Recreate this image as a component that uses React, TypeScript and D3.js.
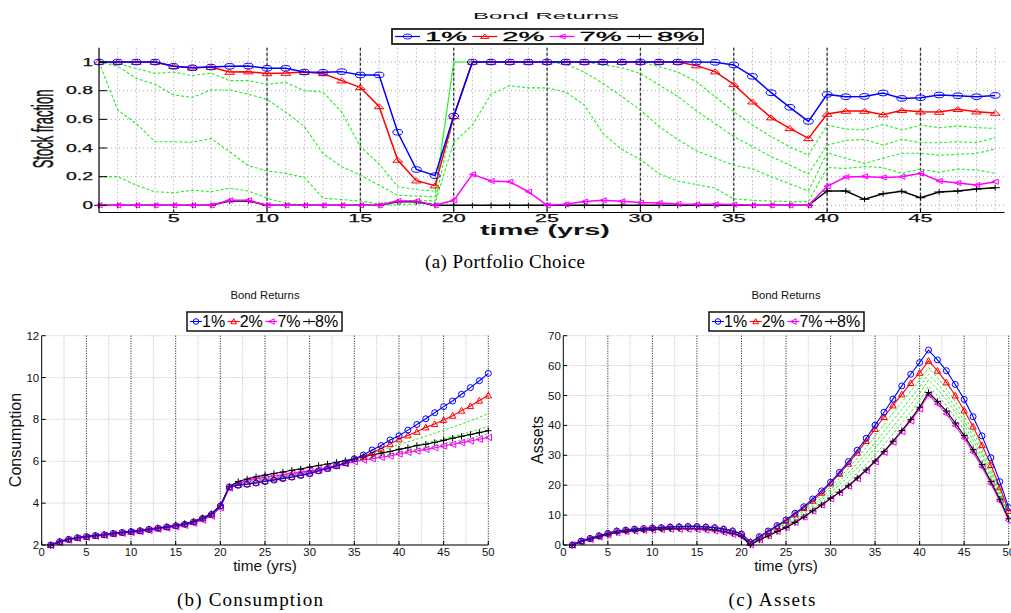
import React from "react";
import * as d3 from "d3";

// ---------- time axes ----------
const stockYears = d3.range(1, 50); // 1..49
const lifeYears = d3.range(1, 51); // 1..50

const rateLabels = ["1%", "2%", "7%", "8%"];

// ---------- (a) stock fraction by bond return ----------
const stock1 = [1, 1, 1, 1, 0.97, 0.96, 0.965, 0.97, 0.972, 0.956, 0.956, 0.93, 0.928, 0.933, 0.91, 0.91, 0.51, 0.25, 0.207, 0.623,
  1, 1, 1, 1, 1, 1, 1, 1, 1, 1, 1, 1, 1, 0.998, 0.98, 0.9, 0.786, 0.684, 0.586,
  0.774, 0.758, 0.76, 0.784, 0.746, 0.751, 0.77, 0.765, 0.758, 0.767];
const stock2 = [1, 1, 1, 1, 0.97, 0.96, 0.965, 0.93, 0.933, 0.92, 0.923, 0.93, 0.92, 0.87, 0.823, 0.69, 0.316, 0.172, 0.137, 0.62,
  1, 1, 1, 1, 1, 1, 1, 1, 1, 1, 1, 1, 0.975, 0.933, 0.844, 0.723, 0.612, 0.537, 0.467,
  0.637, 0.658, 0.658, 0.633, 0.663, 0.653, 0.651, 0.67, 0.653, 0.644];
const stock7 = [0, 0, 0, 0, 0, 0, 0, 0.035, 0.035, 0, 0, 0, 0, 0, 0, 0, 0.03, 0.03, 0, 0.035,
  0.216, 0.17, 0.165, 0.095, 0, 0.007, 0.026, 0.035, 0.028, 0.019, 0.016, 0.01, 0.007, 0.007, 0.005, 0, 0, 0, 0,
  0.133, 0.198, 0.202, 0.195, 0.2, 0.223, 0.17, 0.156, 0.142, 0.165];
const stock8 = [0, 0, 0, 0, 0, 0, 0, 0.03, 0.03, 0, 0, 0, 0, 0, 0, 0, 0.025, 0.025, 0, 0,
  0, 0, 0, 0, 0, 0, 0, 0, 0, 0, 0, 0, 0, 0, 0, 0, 0, 0, 0,
  0.1, 0.1, 0.042, 0.081, 0.098, 0.053, 0.093, 0.1, 0.114, 0.123];
const stock3 = [1, 0.99, 0.955, 0.92, 0.93, 0.905, 0.923, 0.87, 0.87, 0.845, 0.858, 0.8, 0.79, 0.65, 0.41, 0.29, 0.13, 0.11, 0.1, 1,
  1, 1, 1, 1, 1, 1, 1, 1, 1, 1, 0.967, 0.93, 0.863, 0.758, 0.653, 0.56, 0.479, 0.409, 0.35,
  0.56, 0.533, 0.526, 0.565, 0.526, 0.558, 0.542, 0.553, 0.542, 0.537];
const stock4 = [1, 0.97, 0.886, 0.845, 0.77, 0.753, 0.805, 0.805, 0.775, 0.74, 0.65, 0.55, 0.36, 0.27, 0.21, 0.14, 0.07, 0.065, 0.06, 1,
  1, 1, 1, 1, 1, 1, 1, 0.98, 0.96, 0.92, 0.84, 0.76, 0.66, 0.57, 0.48, 0.41, 0.34, 0.28, 0.22,
  0.42, 0.453, 0.46, 0.42, 0.46, 0.437, 0.437, 0.444, 0.437, 0.472];
const stock5 = [1, 0.665, 0.57, 0.444, 0.444, 0.44, 0.467, 0.374, 0.277, 0.24, 0.223, 0.195, 0.05, 0.04, 0.03, 0.01, 0.03, 0.035, 0.03, 0.62,
  1, 1, 1, 1, 1, 0.985, 0.93, 0.85, 0.76, 0.665, 0.55, 0.46, 0.38, 0.33, 0.28, 0.255, 0.2, 0.15, 0.1,
  0.367, 0.328, 0.293, 0.328, 0.363, 0.363, 0.35, 0.356, 0.363, 0.393];
const stock6 = [0.2, 0.2, 0.14, 0.095, 0.088, 0.105, 0.095, 0.12, 0.1, 0.05, 0.015, 0.002, 0, 0, 0, 0, 0.005, 0.01, 0.015, 0.44,
  0.56, 0.775, 0.835, 0.82, 0.82, 0.79, 0.7, 0.5, 0.39, 0.32, 0.22, 0.17, 0.145, 0.12, 0.045, 0.035, 0.03, 0.026, 0.026,
  0.263, 0.258, 0.27, 0.263, 0.223, 0.253, 0.23, 0.253, 0.247, 0.223];

// ---------- (b) consumption ----------
const cons1 = [2.0, 2.16, 2.27, 2.35, 2.4, 2.45, 2.49, 2.55, 2.6, 2.64, 2.68, 2.75, 2.8, 2.86, 2.92, 2.99, 3.1, 3.27, 3.46, 3.86,
  4.77, 4.85, 4.9, 4.96, 5.03, 5.1, 5.17, 5.24, 5.32, 5.41, 5.55, 5.65, 5.78, 5.93, 6.12, 6.3, 6.54, 6.75, 7.02, 7.22,
  7.49, 7.76, 8.03, 8.32, 8.61, 8.88, 9.2, 9.52, 9.85, 10.2];
const cons2 = [2.0, 2.16, 2.27, 2.35, 2.4, 2.45, 2.49, 2.55, 2.6, 2.64, 2.68, 2.75, 2.8, 2.86, 2.93, 3.0, 3.11, 3.28, 3.46, 3.86,
  4.78, 4.87, 4.91, 4.98, 5.06, 5.14, 5.2, 5.26, 5.34, 5.42, 5.55, 5.66, 5.79, 5.93, 6.13, 6.22, 6.41, 6.6, 6.82, 7.05,
  7.24, 7.41, 7.62, 7.78, 7.97, 8.18, 8.42, 8.64, 8.9, 9.15];
const cons7 = [1.98, 2.12, 2.24, 2.32, 2.37, 2.42, 2.46, 2.52, 2.56, 2.6, 2.64, 2.7, 2.76, 2.81, 2.87, 2.94, 3.04, 3.19, 3.38, 3.78,
  4.72, 4.95, 5.08, 5.17, 5.24, 5.3, 5.36, 5.42, 5.48, 5.54, 5.6, 5.7, 5.78, 5.88, 5.98, 6.06, 6.12, 6.19, 6.25, 6.35,
  6.43, 6.49, 6.57, 6.65, 6.73, 6.81, 6.89, 6.97, 7.05, 7.14];
const cons8 = [2.0, 2.17, 2.28, 2.36, 2.41, 2.46, 2.5, 2.56, 2.61, 2.65, 2.7, 2.76, 2.82, 2.87, 2.94, 3.02, 3.13, 3.3, 3.5, 3.9,
  4.8, 5.03, 5.15, 5.26, 5.34, 5.42, 5.49, 5.57, 5.63, 5.72, 5.8, 5.87, 5.95, 6.03, 6.12, 6.22, 6.3, 6.39, 6.47, 6.57,
  6.65, 6.75, 6.81, 6.9, 7.0, 7.1, 7.19, 7.28, 7.37, 7.46];
const cons3 = [2.0, 2.16, 2.27, 2.35, 2.4, 2.45, 2.49, 2.55, 2.6, 2.64, 2.68, 2.75, 2.8, 2.86, 2.92, 2.99, 3.1, 3.26, 3.44, 3.84,
  4.76, 4.88, 4.94, 5.01, 5.09, 5.16, 5.23, 5.3, 5.37, 5.45, 5.56, 5.67, 5.79, 5.92, 6.12, 6.25, 6.38, 6.52, 6.66, 6.8,
  6.93, 7.06, 7.2, 7.34, 7.48, 7.63, 7.78, 7.94, 8.1, 8.28];
const cons4 = [2.0, 2.15, 2.26, 2.34, 2.39, 2.44, 2.48, 2.54, 2.59, 2.63, 2.67, 2.74, 2.79, 2.85, 2.91, 2.98, 3.08, 3.24, 3.42, 3.82,
  4.75, 4.9, 4.98, 5.05, 5.12, 5.19, 5.26, 5.33, 5.4, 5.47, 5.57, 5.67, 5.78, 5.9, 6.1, 6.2, 6.29, 6.38, 6.48, 6.58,
  6.67, 6.77, 6.87, 6.97, 7.07, 7.18, 7.29, 7.4, 7.53, 7.66];
const cons5 = [1.99, 2.14, 2.25, 2.33, 2.38, 2.43, 2.47, 2.53, 2.58, 2.62, 2.66, 2.72, 2.78, 2.84, 2.9, 2.97, 3.07, 3.22, 3.41, 3.8,
  4.74, 4.92, 5.02, 5.1, 5.16, 5.23, 5.29, 5.36, 5.42, 5.49, 5.58, 5.68, 5.77, 5.88, 6.05, 6.13, 6.2, 6.27, 6.35, 6.42,
  6.5, 6.58, 6.66, 6.74, 6.83, 6.92, 7.01, 7.1, 7.2, 7.32];
const cons6 = [1.99, 2.13, 2.24, 2.32, 2.37, 2.42, 2.46, 2.52, 2.57, 2.61, 2.65, 2.71, 2.77, 2.82, 2.88, 2.95, 3.05, 3.2, 3.39, 3.79,
  4.73, 4.94, 5.05, 5.13, 5.2, 5.27, 5.33, 5.39, 5.45, 5.51, 5.59, 5.69, 5.77, 5.87, 6.0, 6.07, 6.13, 6.2, 6.26, 6.33,
  6.4, 6.47, 6.54, 6.62, 6.7, 6.78, 6.87, 6.96, 7.06, 7.17];

// ---------- (c) assets ----------
const assets1 = [0, 1.3, 2.2, 3.1, 3.9, 4.7, 5.0, 5.3, 5.5, 5.7, 5.8, 6.0, 6.1, 6.2, 6.2, 6.0, 5.8, 5.3, 4.7, 3.7,
  0.8, 2.8, 4.7, 6.5, 8.4, 10.6, 12.8, 15.4, 18.1, 21.0, 24.3, 27.9, 31.7, 35.7, 40.1, 44.4, 48.8, 53.2, 57.1, 61.0,
  65.2, 61.9, 58.3, 53.7, 48.7, 42.9, 36.5, 29.2, 21.2, 12.5];
const assets2 = [0, 1.3, 2.2, 3.1, 3.9, 4.7, 5.0, 5.3, 5.5, 5.8, 5.9, 6.1, 6.2, 6.3, 6.3, 6.1, 5.9, 5.4, 4.8, 3.8,
  1.1, 2.6, 4.4, 6.2, 8.1, 10.2, 12.4, 14.8, 17.5, 20.6, 23.8, 27.2, 30.9, 34.8, 38.8, 42.8, 46.7, 50.4, 54.2, 57.6,
  61.6, 58.3, 54.4, 50.0, 45.0, 39.6, 33.4, 26.8, 19.3, 11.4];
const assets7 = [0, 1.1, 1.9, 2.7, 3.4, 4.1, 4.5, 4.7, 4.9, 5.1, 5.2, 5.3, 5.3, 5.3, 5.2, 5.0, 4.7, 4.2, 3.6, 2.8,
  0.1, 1.8, 3.1, 4.6, 5.9, 7.6, 9.4, 11.4, 13.4, 15.5, 17.5, 19.7, 22.2, 24.9, 27.8, 31.0, 34.4, 37.9, 41.5, 45.5,
  50.3, 47.2, 43.9, 39.9, 35.7, 31.0, 26.1, 20.5, 14.7, 8.2];
const assets8 = [0, 1.2, 2.0, 2.8, 3.5, 4.2, 4.6, 4.8, 5.0, 5.2, 5.3, 5.4, 5.5, 5.5, 5.5, 5.3, 5.0, 4.5, 3.9, 3.0,
  0.0, 1.7, 3.0, 4.5, 5.8, 7.5, 9.3, 11.4, 13.4, 15.6, 17.6, 19.8, 22.4, 25.1, 28.1, 31.3, 34.7, 38.3, 42.0, 46.1,
  51.0, 48.0, 44.8, 40.8, 36.6, 31.9, 26.9, 21.2, 15.3, 8.8];
const assets3 = [0, 1.3, 2.2, 3.1, 3.9, 4.6, 5.0, 5.2, 5.4, 5.7, 5.8, 6.0, 6.1, 6.2, 6.2, 6.0, 5.8, 5.3, 4.7, 3.7,
  0.9, 2.4, 4.1, 5.8, 7.6, 9.6, 11.7, 14.1, 16.6, 19.5, 22.4, 25.6, 29.0, 32.7, 36.4, 40.3, 44.1, 47.7, 51.5, 55.1,
  59.3, 56.0, 52.3, 48.0, 43.2, 37.9, 32.0, 25.6, 18.4, 10.8];
const assets4 = [0, 1.3, 2.1, 3.0, 3.8, 4.5, 4.9, 5.1, 5.3, 5.6, 5.7, 5.9, 6.0, 6.1, 6.1, 5.9, 5.6, 5.1, 4.5, 3.5,
  0.6, 2.2, 3.8, 5.5, 7.1, 9.1, 11.1, 13.4, 15.8, 18.5, 21.2, 24.1, 27.3, 30.7, 34.3, 38.0, 41.7, 45.3, 49.1, 52.8,
  57.1, 54.0, 50.4, 46.1, 41.5, 36.4, 30.7, 24.4, 17.6, 10.3];
const assets5 = [0, 1.2, 2.1, 3.0, 3.7, 4.4, 4.8, 5.0, 5.2, 5.5, 5.6, 5.7, 5.8, 5.9, 5.9, 5.7, 5.4, 4.9, 4.3, 3.3,
  0.4, 2.1, 3.6, 5.2, 6.7, 8.6, 10.5, 12.8, 15.0, 17.6, 20.1, 22.8, 25.8, 29.0, 32.4, 35.9, 39.5, 43.1, 46.9, 50.7,
  55.2, 52.1, 48.6, 44.5, 40.0, 35.0, 29.5, 23.4, 16.9, 9.8];
const assets6 = [0, 1.2, 2.0, 2.9, 3.6, 4.3, 4.7, 4.9, 5.1, 5.3, 5.4, 5.5, 5.6, 5.7, 5.7, 5.5, 5.2, 4.7, 4.1, 3.1,
  0.2, 1.9, 3.3, 4.8, 6.3, 8.0, 9.9, 12.1, 14.2, 16.6, 18.8, 21.3, 24.1, 27.0, 30.2, 33.6, 37.1, 40.7, 44.4, 48.4,
  53.1, 50.1, 46.7, 42.6, 38.3, 33.4, 28.2, 22.3, 16.1, 9.3];

// ---------- tick labels ----------
const stockYTicks = [0, 0.2, 0.4, 0.6, 0.8, 1];
const stockXTicks = [5, 10, 15, 20, 25, 30, 35, 40, 45];
const lifeXTicks = [0, 5, 10, 15, 20, 25, 30, 35, 40, 45, 50];
const consYTicks = [2, 4, 6, 8, 10, 12];
const assetsYTicks = [0, 10, 20, 30, 40, 50, 60, 70];

// ---------- styling ----------
const SANS = "'Liberation Sans', Arial, Helvetica, sans-serif";
const SERIF = "'Liberation Serif', 'Times New Roman', Times, serif";
const GREEN = "#22ee22";
const BLUE = "#0000ff";
const RED = "#ff0000";
const MAGENTA = "#ff00ff";
const BLACK = "#000000";

type MarkKind = "o" | "^" | "<" | "+";

const mainColors = [BLUE, RED, MAGENTA, BLACK];
const mainMarks: MarkKind[] = ["o", "^", "<", "+"];

function Mark({ kind, cx, cy, color, r, sx }: { kind: MarkKind; cx: number; cy: number; color: string; r: number; sx: number }) {
  const rx = r * sx;
  if (kind === "o") return <ellipse cx={cx} cy={cy} rx={rx} ry={r} fill="none" stroke={color} strokeWidth={1} />;
  if (kind === "^")
    return <path d={`M${cx},${cy - r}L${cx + rx},${cy + r * 0.8}L${cx - rx},${cy + r * 0.8}Z`} fill="none" stroke={color} strokeWidth={1} />;
  if (kind === "<")
    return <path d={`M${cx - rx},${cy}L${cx + rx},${cy - r}L${cx + rx},${cy + r}Z`} fill="none" stroke={color} strokeWidth={1} />;
  return (
    <g stroke={color} strokeWidth={1}>
      <line x1={cx - rx} x2={cx + rx} y1={cy} y2={cy} />
      <line x1={cx} x2={cx} y1={cy - r} y2={cy + r} />
    </g>
  );
}

// ---------- (a) panel ----------
function PortfolioPanel() {
  const x = d3.scaleLinear().domain([1, 49.5]).range([99, 1004.5]);
  const y = d3.scaleLinear().domain([-0.05, 1.1]).range([212.5, 47.7]);
  const line = d3.line<number>().x((_, i) => x(stockYears[i])).y((d) => y(d));
  const greens = [stock3, stock4, stock5, stock6];
  const mains = [stock8, stock7, stock2, stock1];
  const mainIdx = [3, 2, 1, 0];
  const SX = 1.75;
  const top = y(1.1);
  const bottom = y(-0.05);
  return (
    <g>
      {/* grid */}
      {stockYears.slice(1).map((t) => (
        <line key={`gv${t}`} x1={x(t)} x2={x(t)} y1={top} y2={bottom} stroke="#c4c4c4" strokeDasharray="2,2" strokeWidth={1} />
      ))}
      {stockYTicks.map((v) => (
        <line key={`gh${v}`} x1={x(1)} x2={x(49.5)} y1={y(v)} y2={y(v)} stroke="#a8a8a8" strokeDasharray="1,3" strokeWidth={1} />
      ))}
      {stockXTicks.filter((t) => t >= 10).map((t) => (
        <line key={`gd${t}`} x1={x(t)} x2={x(t)} y1={top} y2={bottom} stroke="#333" strokeDasharray="3,2" strokeWidth={1.3} />
      ))}
      {/* series */}
      {greens.map((s, i) => (
        <path key={`g${i}`} d={line(s) || ""} fill="none" stroke={GREEN} strokeWidth={1.1} strokeDasharray="3,2" />
      ))}
      {mains.map((s, k) => {
        const c = mainColors[mainIdx[k]];
        return (
          <g key={`m${k}`}>
            <path d={line(s) || ""} fill="none" stroke={c} strokeWidth={1.5} />
            {s.map((v, i) => (
              <Mark key={i} kind={mainMarks[mainIdx[k]]} cx={x(stockYears[i])} cy={y(v)} color={c} r={mainIdx[k] === 2 ? 2.6 : 2.8} sx={mainIdx[k] === 2 ? 1.2 : SX} />
            ))}
          </g>
        );
      })}
      {/* axes */}
      <line x1={x(1)} x2={x(1)} y1={top} y2={bottom} stroke="#000" strokeWidth={1.2} />
      <line x1={x(1)} x2={x(49.5)} y1={bottom} y2={bottom} stroke="#000" strokeWidth={1.2} />
      {stockYTicks.map((v) => (
        <g key={`yt${v}`}>
          <line x1={x(1)} x2={x(1) + 8} y1={y(v)} y2={y(v)} stroke="#000" strokeWidth={1} />
          <text x={93} y={y(v) + 3.6} fontFamily={SANS} fontSize={10} textAnchor="end" textLength={String(v).length === 1 ? 10.5 : 27} lengthAdjust="spacingAndGlyphs" fill="#111" stroke="#111" strokeWidth={0.25}>
            {String(v)}
          </text>
        </g>
      ))}
      {stockXTicks.map((t) => (
        <g key={`xt${t}`}>
          <line x1={x(t)} x2={x(t)} y1={bottom} y2={bottom - 3} stroke="#000" strokeWidth={1} />
          <text x={x(t)} y={222} fontFamily={SANS} fontSize={10.3} textAnchor="middle" textLength={String(t).length * 12} lengthAdjust="spacingAndGlyphs" fill="#111" stroke="#111" strokeWidth={0.25}>
            {String(t)}
          </text>
        </g>
      ))}
      <text x={546} y={19.3} fontFamily={SANS} fontSize={9.8} textAnchor="middle" textLength={146} lengthAdjust="spacingAndGlyphs" fill="#111">
        Bond Returns
      </text>
      <text x={545} y={235} fontFamily={SANS} fontSize={14} fontWeight="bold" textAnchor="middle" textLength={130} lengthAdjust="spacingAndGlyphs" fill="#111">
        time (yrs)
      </text>
      <text transform="translate(53,129) rotate(-90) scale(1,2.25)" fontFamily={SANS} fontSize={13} textAnchor="middle" fill="#111" stroke="#111" strokeWidth={0.2}>
        Stock fraction
      </text>
      {/* legend */}
      <rect x={392} y={29} width={311} height={15} fill="#fff" stroke="#000" strokeWidth={1.6} />
      {rateLabels.map((lab, i) => {
        const x0 = 395 + i * 77.3;
        const c = mainColors[i];
        return (
          <g key={lab}>
            <line x1={x0} x2={x0 + 25} y1={36.5} y2={36.5} stroke={c} strokeWidth={1.2} />
            <Mark kind={mainMarks[i]} cx={x0 + 12.5} cy={36.5} color={c} r={2.4} sx={i === 2 ? 1.3 : SX} />
            <text x={x0 + 30} y={40.8} fontFamily={SANS} fontSize={12.5} textLength={42} lengthAdjust="spacingAndGlyphs" fill="#000" stroke="#000" strokeWidth={0.3}>
              {lab}
            </text>
          </g>
        );
      })}
      <text x={505} y={268} fontFamily={SERIF} fontSize={19} textAnchor="middle" textLength={160} fill="#000">
        (a)  Portfolio Choice
      </text>
    </g>
  );
}

// ---------- (b), (c) panels ----------
interface PanelProps {
  x0: number;
  x1: number;
  yDomain: [number, number];
  yTicks: number[];
  yLabel: string;
  yLabelX: number;
  caption: string;
  captionX: number;
  captionLen: number;
  legendX: number;
  mains: number[][]; // 1%, 2%, 7%, 8%
  greens: number[][];
}

function LifePanel(p: PanelProps) {
  const x = d3.scaleLinear().domain([0, 50]).range([p.x0, p.x1]);
  const y = d3.scaleLinear().domain(p.yDomain).range([545, 335.7]);
  const line = d3.line<number>().x((_, i) => x(lifeYears[i])).y((d) => y(d));
  const top = 335.7;
  const bottom = 545;
  const mid = (p.x0 + p.x1) / 2;
  const minorX = d3.range(2.5, 50, 5);
  const order = [2, 3, 1, 0];
  return (
    <g>
      {minorX.map((t) => (
        <line key={`mv${t}`} x1={x(t)} x2={x(t)} y1={top} y2={bottom} stroke="#bdbdbd" strokeDasharray="1,1.5" strokeWidth={1} />
      ))}
      {p.yTicks.map((v) => (
        <line key={`gh${v}`} x1={p.x0} x2={p.x1} y1={y(v)} y2={y(v)} stroke="#bdbdbd" strokeDasharray="1,1.5" strokeWidth={1} />
      ))}
      {lifeXTicks.slice(1).map((t) => (
        <line key={`gv${t}`} x1={x(t)} x2={x(t)} y1={top} y2={bottom} stroke="#111" strokeDasharray="1,1.5" strokeWidth={1} />
      ))}
      {p.greens.map((s, i) => (
        <path key={`g${i}`} d={line(s) || ""} fill="none" stroke={GREEN} strokeWidth={1} strokeDasharray="2.5,2" />
      ))}
      {order.map((k) => (
        <g key={`m${k}`}>
          <path d={line(p.mains[k]) || ""} fill="none" stroke={mainColors[k]} strokeWidth={1.1} />
          {p.mains[k].map((v, i) => (
            <Mark key={i} kind={mainMarks[k]} cx={x(lifeYears[i])} cy={y(v)} color={mainColors[k]} r={k === 0 ? 3 : 3.2} sx={1} />
          ))}
        </g>
      ))}
      <line x1={p.x0} x2={p.x0} y1={top} y2={bottom} stroke="#000" strokeWidth={1} />
      <line x1={p.x0} x2={p.x1} y1={bottom} y2={bottom} stroke="#000" strokeWidth={1} />
      {p.yTicks.map((v) => (
        <g key={`yt${v}`}>
          <line x1={p.x0} x2={p.x0 + 4} y1={y(v)} y2={y(v)} stroke="#000" />
          <text x={p.x0 - 2.5} y={y(v) + 4} fontFamily={SANS} fontSize={11.5} textAnchor="end" fill="#111">
            {String(v)}
          </text>
        </g>
      ))}
      {lifeXTicks.map((t) => (
        <g key={`xt${t}`}>
          <line x1={x(t)} x2={x(t)} y1={bottom} y2={bottom - 4} stroke="#000" />
          <text x={x(t)} y={556} fontFamily={SANS} fontSize={11.3} textAnchor="middle" fill="#111">
            {String(t)}
          </text>
        </g>
      ))}
      <text x={mid} y={299} fontFamily={SANS} fontSize={11.3} textAnchor="middle" fill="#111">
        Bond Returns
      </text>
      <text x={mid} y={571} fontFamily={SANS} fontSize={15.3} textAnchor="middle" fill="#111">
        time (yrs)
      </text>
      <text transform={`translate(${p.yLabelX},440) rotate(-90)`} fontFamily={SANS} fontSize={16} textAnchor="middle" fill="#111">
        {p.yLabel}
      </text>
      <rect x={p.legendX} y={312} width={155} height={19} fill="#fff" stroke="#000" strokeWidth={1.4} />
      {rateLabels.map((lab, i) => {
        const lx = p.legendX + 3 + i * 37.7;
        return (
          <g key={lab}>
            <line x1={lx} x2={lx + 12} y1={321.5} y2={321.5} stroke={mainColors[i]} strokeWidth={1.1} />
            <Mark kind={mainMarks[i]} cx={lx + 6} cy={321.5} color={mainColors[i]} r={2.8} sx={1} />
            <text x={lx + 12} y={326.8} fontFamily={SANS} fontSize={16} fill="#000">
              {lab}
            </text>
          </g>
        );
      })}
      <text x={p.captionX} y={606} fontFamily={SERIF} fontSize={19} textAnchor="middle" textLength={p.captionLen} fill="#000">
        {p.caption}
      </text>
    </g>
  );
}

export default function App() {
  return (
    <svg
      width={1011}
      height={613}
      viewBox="0 0 1011 613"
      xmlns="http://www.w3.org/2000/svg"
      style={{ position: "absolute", left: 0, top: 0, display: "block", background: "#fff" }}
    >
      <rect width={1011} height={613} fill="#fff" />
      <PortfolioPanel />
      <LifePanel
        x0={41.7}
        x1={488.3}
        yDomain={[2, 12]}
        yTicks={consYTicks}
        yLabel="Consumption"
        yLabelX={21}
        caption="(b)  Consumption"
        captionX={250}
        captionLen={146}
        legendX={187}
        mains={[cons1, cons2, cons7, cons8]}
        greens={[cons3, cons4, cons5, cons6]}
      />
      <LifePanel
        x0={563.3}
        x1={1008.7}
        yDomain={[0, 70]}
        yTicks={assetsYTicks}
        yLabel="Assets"
        yLabelX={543}
        caption="(c)  Assets"
        captionX={772}
        captionLen={87}
        legendX={709}
        mains={[assets1, assets2, assets7, assets8]}
        greens={[assets3, assets4, assets5, assets6]}
      />
    </svg>
  );
}
